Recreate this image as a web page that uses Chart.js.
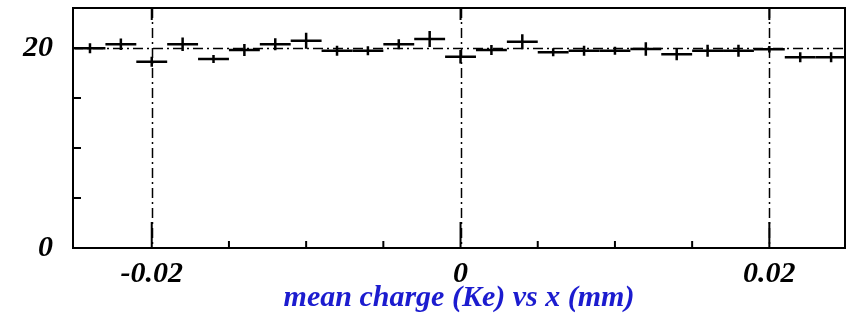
<!DOCTYPE html>
<html>
<head>
<meta charset="utf-8">
<script src="https://cdn.jsdelivr.net/npm/chart.js@4.4.1/dist/chart.umd.min.js"></script>
<style>
  html, body { margin: 0; padding: 0; background: #ffffff; }
  #wrap { width: 847px; height: 320px; }
</style>
</head>
<body>
<div id="wrap"><canvas id="c" width="847" height="320"></canvas></div>
<script>
// Mean collected charge per x bin (bin width 0.002 mm)
const binCenters = [-0.024, -0.022, -0.020, -0.018, -0.016, -0.014, -0.012, -0.010, -0.008,
                    -0.006, -0.004, -0.002, 0.000, 0.002, 0.004, 0.006, 0.008, 0.010,
                    0.012, 0.014, 0.016, 0.018, 0.020, 0.022, 0.024];
const meanCharge = [19.97, 20.37, 18.63, 20.37, 18.90, 19.80, 20.37, 20.73, 19.73,
                    19.73, 20.37, 20.90, 19.13, 19.80, 20.63, 19.57, 19.73, 19.73,
                    19.90, 19.37, 19.73, 19.73, 19.87, 19.07, 19.07];
const chargeError = [0.50, 0.57, 0.50, 0.67, 0.40, 0.60, 0.60, 0.80, 0.50,
                     0.45, 0.50, 0.80, 0.67, 0.50, 0.75, 0.40, 0.50, 0.40,
                     0.67, 0.60, 0.60, 0.60, 0.33, 0.50, 0.50];
const binHalfWidth = 0.001;

// Axis ticks and labels
const xMajorTicks = [-0.02, 0, 0.02];
const xTickLabels = ['-0.02', '0', '0.02'];
const xMinorTicks = [-0.015, -0.01, -0.005, 0.005, 0.01, 0.015];
const yMajorTicks = [0, 20];
const yTickLabels = ['0', '20'];
const yMinorTicks = [5, 10, 15];
const gridValuesX = [-0.02, 0, 0.02];
const gridValuesY = [20];

const axisFont = { family: 'Liberation Serif', size: 30, weight: 'bold', style: 'italic' };

// Draws grid, error-bar crosses, frame and tick marks in ROOT style
const histPainter = {
  id: 'histPainter',
  afterDatasetsDraw(chart) {
    const ctx = chart.ctx;
    const xs = chart.scales.x, ys = chart.scales.y;
    const a = chart.chartArea;
    ctx.save();

    // dash-dot grid
    ctx.strokeStyle = '#000';
    ctx.lineWidth = 1.5;
    ctx.setLineDash([10, 4, 2, 4]);
    gridValuesX.forEach(v => {
      const px = Math.round(xs.getPixelForValue(v)) + 0.5;
      ctx.beginPath(); ctx.moveTo(px, a.top); ctx.lineTo(px, a.bottom); ctx.stroke();
    });
    gridValuesY.forEach(v => {
      const py = Math.round(ys.getPixelForValue(v)) + 0.5;
      ctx.beginPath(); ctx.moveTo(a.left, py); ctx.lineTo(a.right, py); ctx.stroke();
    });
    ctx.setLineDash([]);

    // bin markers: horizontal bin width and vertical error
    ctx.save();
    ctx.beginPath(); ctx.rect(a.left, a.top, a.right - a.left, a.bottom - a.top); ctx.clip();
    ctx.lineWidth = 2.5;
    ctx.lineCap = 'butt';
    binCenters.forEach((c, i) => {
      const v = meanCharge[i], e = chargeError[i];
      const xl = xs.getPixelForValue(c - binHalfWidth);
      const xr = xs.getPixelForValue(c + binHalfWidth);
      const xc = xs.getPixelForValue(c);
      const yc = ys.getPixelForValue(v);
      const yt = ys.getPixelForValue(v + e);
      const yb = ys.getPixelForValue(v - e);
      ctx.beginPath();
      ctx.moveTo(xl, yc); ctx.lineTo(xr, yc);
      ctx.moveTo(xc, yt); ctx.lineTo(xc, yb);
      ctx.stroke();
    });
    ctx.restore();

    // tick marks (drawn inward)
    ctx.lineWidth = 2;
    xMajorTicks.forEach(v => {
      const px = xs.getPixelForValue(v);
      ctx.beginPath(); ctx.moveTo(px, a.bottom); ctx.lineTo(px, a.bottom - 26); ctx.stroke();
      ctx.beginPath(); ctx.moveTo(px, a.top); ctx.lineTo(px, a.top + 12); ctx.stroke();
    });
    xMinorTicks.forEach(v => {
      const px = xs.getPixelForValue(v);
      ctx.beginPath(); ctx.moveTo(px, a.bottom); ctx.lineTo(px, a.bottom - 7); ctx.stroke();
    });
    yMajorTicks.forEach(v => {
      const py = ys.getPixelForValue(v);
      ctx.beginPath(); ctx.moveTo(a.left, py); ctx.lineTo(a.left + 14, py); ctx.stroke();
    });
    yMinorTicks.forEach(v => {
      const py = ys.getPixelForValue(v);
      ctx.beginPath(); ctx.moveTo(a.left, py); ctx.lineTo(a.left + 8, py); ctx.stroke();
    });

    // frame
    ctx.lineWidth = 2;
    ctx.strokeRect(a.left, a.top, a.right - a.left, a.bottom - a.top);
    ctx.restore();
  }
};

new Chart(document.getElementById('c'), {
  type: 'scatter',
  data: {
    datasets: [{
      data: binCenters.map((c, i) => ({ x: c, y: meanCharge[i] })),
      pointRadius: 0,
      showLine: false
    }]
  },
  options: {
    responsive: false,
    animation: false,
    layout: { padding: { top: 8, right: 2, left: 0, bottom: 0 } },
    plugins: { legend: { display: false }, tooltip: { enabled: false } },
    scales: {
      x: {
        type: 'linear',
        min: -0.0251,
        max: 0.0249,
        grid: { display: false, drawTicks: false },
        border: { display: false },
        afterBuildTicks: axis => { axis.ticks = xMajorTicks.map(v => ({ value: v })); },
        afterFit: axis => {
          axis.height = 72;
          axis.paddingLeft = 0; axis.paddingRight = 0;
        },
        ticks: {
          color: '#000',
          font: axisFont,
          padding: 8,
          maxRotation: 0,
          autoSkip: false,
          callback: (v, i) => xTickLabels[i]
        },
        title: {
          display: true,
          text: 'mean charge (Ke) vs x (mm)',
          color: '#1c1ccf',
          font: axisFont,
          padding: { top: 0, bottom: 4 }
        }
      },
      y: {
        type: 'linear',
        min: 0,
        max: 24,
        grid: { display: false, drawTicks: false },
        border: { display: false },
        afterBuildTicks: axis => { axis.ticks = yMajorTicks.map(v => ({ value: v })); },
        afterFit: axis => {
          axis.width = 73;
          axis.paddingTop = 0; axis.paddingBottom = 0;
        },
        ticks: {
          color: '#000',
          font: axisFont,
          padding: 20,
          callback: (v, i) => yTickLabels[i]
        }
      }
    }
  },
  plugins: [histPainter]
});
</script>
</body>
</html>
